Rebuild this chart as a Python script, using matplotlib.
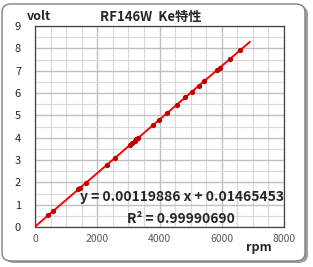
import matplotlib
matplotlib.use("Agg")
import matplotlib.pyplot as plt
from matplotlib.patches import FancyBboxPatch
import numpy as np

plt.rcParams['font.family'] = ['Noto Sans CJK JP', 'DejaVu Sans']

rpm = [420, 580, 1380, 1450, 1640, 2310, 2570, 3050, 3120, 3200, 3260, 3310,
       3790, 3990, 4240, 4560, 4820, 5045, 5270, 5430, 5850, 5945, 6265, 6590]
volt = [0.52, 0.71, 1.68, 1.76, 1.98, 2.78, 3.09, 3.66, 3.76, 3.85, 3.92, 3.98,
        4.56, 4.79, 5.10, 5.48, 5.80, 6.06, 6.33, 6.52, 7.03, 7.14, 7.53, 7.93]
slope = 0.00119886
intercept = 0.01465453
r2 = 0.99990690
fit_x = [0, 6900]
title = "RF146W  Ke特性"
xticks = [0, 2000, 4000, 6000, 8000]
yticks = list(range(0, 10))

W, H = 313, 267
fig = plt.figure(figsize=(W/100, H/100), dpi=100)
fig.patch.set_facecolor('white')

# rounded frame with shadow
shadow = FancyBboxPatch((5/W, 4/H), 303/W, 257/H,
                        boxstyle="round,pad=0,rounding_size=0.03",
                        transform=fig.transFigure, facecolor='#a0a0a0',
                        edgecolor='none', zorder=0)
frame = FancyBboxPatch((2/W, 6/H), 303/W, 257/H,
                       boxstyle="round,pad=0,rounding_size=0.03",
                       transform=fig.transFigure, facecolor='white',
                       edgecolor='#808080', linewidth=1.0, zorder=1)
fig.patches.extend([shadow, frame])

ax = fig.add_axes([35/W, 1 - 227/H, 249/W, 201/H])
ax.set_zorder(2)
ax.set_facecolor('white')
ax.set_xlim(0, 8000)
ax.set_ylim(0, 9)
ax.set_xticks(xticks)
ax.set_yticks(yticks)
ax.set_xticks(np.arange(0, 8001, 500), minor=True)
ax.set_yticks(np.arange(0, 9.01, 0.5), minor=True)
ax.grid(True, which='minor', color='#d9d9d9', linewidth=0.8)
ax.grid(True, which='major', color='#bfbfbf', linewidth=1.0)
ax.set_axisbelow(True)
ax.tick_params(which='both', length=0)
ax.tick_params(axis='x', labelsize=7.5, labelcolor='#595959', pad=5)
ax.tick_params(axis='y', labelsize=8, labelcolor='#262626', pad=10)
for s in ax.spines.values():
    s.set_color('#404040')
    s.set_linewidth(0.9)

fx = np.array(fit_x)
ax.plot(fx, slope*fx + intercept, color='#ff0000', linewidth=1.4, zorder=3)
ax.plot(rpm, volt, 'o', color='#c00000', markersize=3.8, markeredgewidth=0, zorder=4)

fig.text(151/W, 1 - 17/H, title, ha='center', va='center', fontsize=9.5,
         fontweight='bold', color='#262626')
fig.text(27/W, 1 - 16/H, "volt", ha='left', va='center', fontsize=9,
         fontweight='bold', color='#262626')
fig.text(259/W, 1 - 248/H, "rpm", ha='center', va='center', fontsize=9,
         fontweight='bold', color='#262626')
ax.text(182/W, 1 - 197/H, f"y = {slope:.8f} x + {intercept:.8f}",
        transform=fig.transFigure, ha='center', va='center', fontsize=10,
        fontweight='bold', color='#262626', zorder=5)
ax.text(181/W, 1 - 219/H, f"R² = {r2:.8f}",
        transform=fig.transFigure, ha='center', va='center', fontsize=10,
        fontweight='bold', color='#262626', zorder=5)

fig.savefig("out.png", dpi=100)
